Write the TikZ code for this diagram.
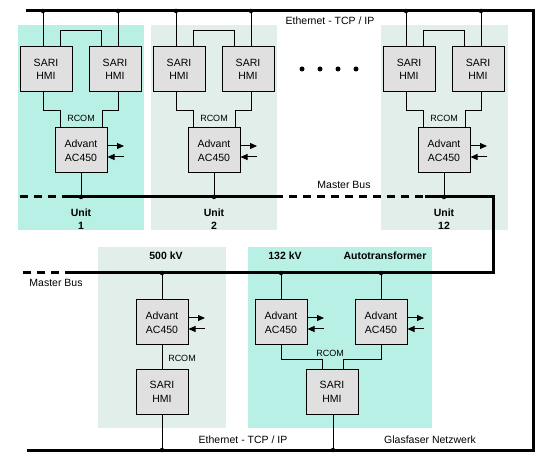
\documentclass[tikz,border=0pt]{standalone}
\usepackage{fontspec}
\setmainfont{Liberation Sans}
\usetikzlibrary{arrows.meta}
\definecolor{densefill}{RGB}{185,240,230}
\definecolor{sparsefill}{RGB}{226,238,234}
\definecolor{boxgray}{RGB}{224,224,224}
\begin{document}
\begin{tikzpicture}[x=1pt,y=-1pt,
  box/.style={draw,line width=1pt,fill=boxgray,minimum width=52pt,minimum height=45pt,inner sep=0pt,align=center,font=\fontsize{10.5}{13.5}\selectfont},
  wire/.style={line width=1pt},
  bus/.style={line width=3pt},
  jdot/.style={circle,fill,inner sep=0pt,minimum size=4.5pt},
  lbl/.style={font=\fontsize{10.5}{12}\selectfont,inner sep=0pt},
  blbl/.style={font=\bfseries\fontsize{10.5}{13}\selectfont,inner sep=0pt,align=center},
  small/.style={font=\fontsize{9}{10}\selectfont,inner sep=0pt},
  tip/.style={-{Triangle[length=7pt,width=6pt]}},
  dashbus/.style={line width=3pt,dash pattern=on 8pt off 6pt}
]
\useasboundingbox (0,0) rectangle (549,462);
\fill[white] (0,0) rectangle (549,462);
% regions
\fill[densefill] (18,25) rectangle (144,230);
\fill[sparsefill] (151,25) rectangle (277,230);
\fill[sparsefill] (381,25) rectangle (508,230);
\fill[sparsefill] (98,247) rectangle (226,428);
\fill[densefill] (248,247) rectangle (432,428);
% buses
\coordinate (e1) at (26,11);
\coordinate (e2) at (533,11);
\coordinate (e3) at (533,450);
\coordinate (e4) at (27,450);
\draw[bus] (e1) -- (e2) -- (e3) -- (e4);
\coordinate (m1) at (20,197);
\coordinate (m2) at (64,197);
\coordinate (m3) at (275,197);
\coordinate (m4) at (425,197);
\coordinate (m5) at (493,197);
\coordinate (m6) at (493,273);
\coordinate (m7) at (73,273);
\coordinate (m8) at (20,273);
\draw[dashbus] (m1) -- (m2);
\draw[bus] (m2) -- (m3);
\draw[dashbus] (m3) -- (m4);
\draw[bus] (m4) -- (m5) -- (m6) -- (m7);
\draw[dashbus] (m7) -- (m8);
% units
\foreach \o/\n in {0/1,133/2,363/12}{
  \node[box] (sl\n) at (46+\o,69.5) {SARI\\HMI};
  \node[box] (sr\n) at (115+\o,69.5) {SARI\\HMI};
  \node[box] (adv\n) at (81+\o,150.5) {Advant\\AC450};
  \coordinate (ta\n) at (43+\o,11);
  \coordinate (tb\n) at (118+\o,11);
  \draw[wire] (ta\n) -- (ta\n |- sl\n.north);
  \draw[wire] (tb\n) -- (tb\n |- sr\n.north);
  \draw[wire] ([xshift=14pt]sl\n.north) -- ++(0,-16) -| ([xshift=-14pt]sr\n.north);
  \draw[wire] ([xshift=-3pt]sl\n.south) -- ++(0,18) -| ([xshift=-21pt]adv\n.north);
  \draw[wire] ([xshift=3pt]sr\n.south) -- ++(0,18) -| ([xshift=21pt]adv\n.north);
  \node[small] (rc\n) at (81+\o,118) {RCOM};
  \coordinate (mb\n) at (81+\o,197);
  \draw[wire] (adv\n.south) -- (mb\n);
  \coordinate (ao\n) at (124+\o,146);
  \coordinate (ai\n) at (124+\o,157);
  \draw[wire,tip] (adv\n.east |- ao\n) -- (ao\n);
  \draw[wire,tip] (ai\n) -- (adv\n.east |- ai\n);
  \node[blbl] (un\n) at (81+\o,219.5) {Unit\\ \n};
  \node[jdot] at (ta\n) {};
  \node[jdot] at (tb\n) {};
  \node[jdot] at (mb\n) {};
}
% 500 kV
\node[box] (adv5) at (162,322.5) {Advant\\AC450};
\node[box] (sari5) at (162,392) {SARI\\HMI};
\coordinate (mb5) at (162,273);
\coordinate (eb5) at (162,450);
\draw[wire] (mb5) -- (adv5.north);
\draw[wire] (adv5.south) -- (sari5.north);
\draw[wire] (sari5.south) -- (eb5);
\node[small] (rc5) at (182,358) {RCOM};
\coordinate (ao5) at (205,318);
\coordinate (ai5) at (205,329);
\draw[wire,tip] (adv5.east |- ao5) -- (ao5);
\draw[wire,tip] (ai5) -- (adv5.east |- ai5);
% 132 kV
\node[box] (advl) at (281,322.5) {Advant\\AC450};
\node[box] (advr) at (381,322.5) {Advant\\AC450};
\node[box] (sari6) at (332,392) {SARI\\HMI};
\coordinate (mbl) at (281,273);
\coordinate (mbr) at (381,273);
\coordinate (eb6) at (333,450);
\draw[wire] (mbl) -- (advl.north);
\draw[wire] (mbr) -- (advr.north);
\draw[wire] (advl.south) -- ++(0,14.5) -| ([xshift=-10pt]sari6.north);
\draw[wire] (advr.south) -- ++(0,14.5) -| ([xshift=11pt]sari6.north);
\draw[wire] (eb6 |- sari6.south) -- (eb6);
\node[small] (rc6) at (330,353) {RCOM};
\coordinate (aol) at (324,318);
\coordinate (ail) at (324,329);
\draw[wire,tip] (advl.east |- aol) -- (aol);
\draw[wire,tip] (ail) -- (advl.east |- ail);
\coordinate (aor) at (424,318);
\coordinate (air) at (424,329);
\draw[wire,tip] (advr.east |- aor) -- (aor);
\draw[wire,tip] (air) -- (advr.east |- air);
% dots
\foreach \p in {mb5,eb5,mbl,mbr,eb6}{\node[jdot] at (\p) {};}
\foreach \x in {302,320,338,356}{\node[jdot,minimum size=5pt] at (\x,69) {};}
% labels
\node[lbl] (eth1) at (330,21) {Ethernet - TCP / IP};
\node[lbl] (mbus1) at (344,185) {Master Bus};
\node[lbl] (mbus2) at (56,283) {Master Bus};
\node[blbl] (kv500) at (166,256) {500 kV};
\node[blbl] (kv132) at (285,256) {132 kV};
\node[blbl] (auto) at (385,256) {Autotransformer};
\node[lbl] (eth2) at (243,440) {Ethernet - TCP / IP};
\node[lbl] (glas) at (430,440) {Glasfaser Netzwerk};
\end{tikzpicture}
\end{document}
